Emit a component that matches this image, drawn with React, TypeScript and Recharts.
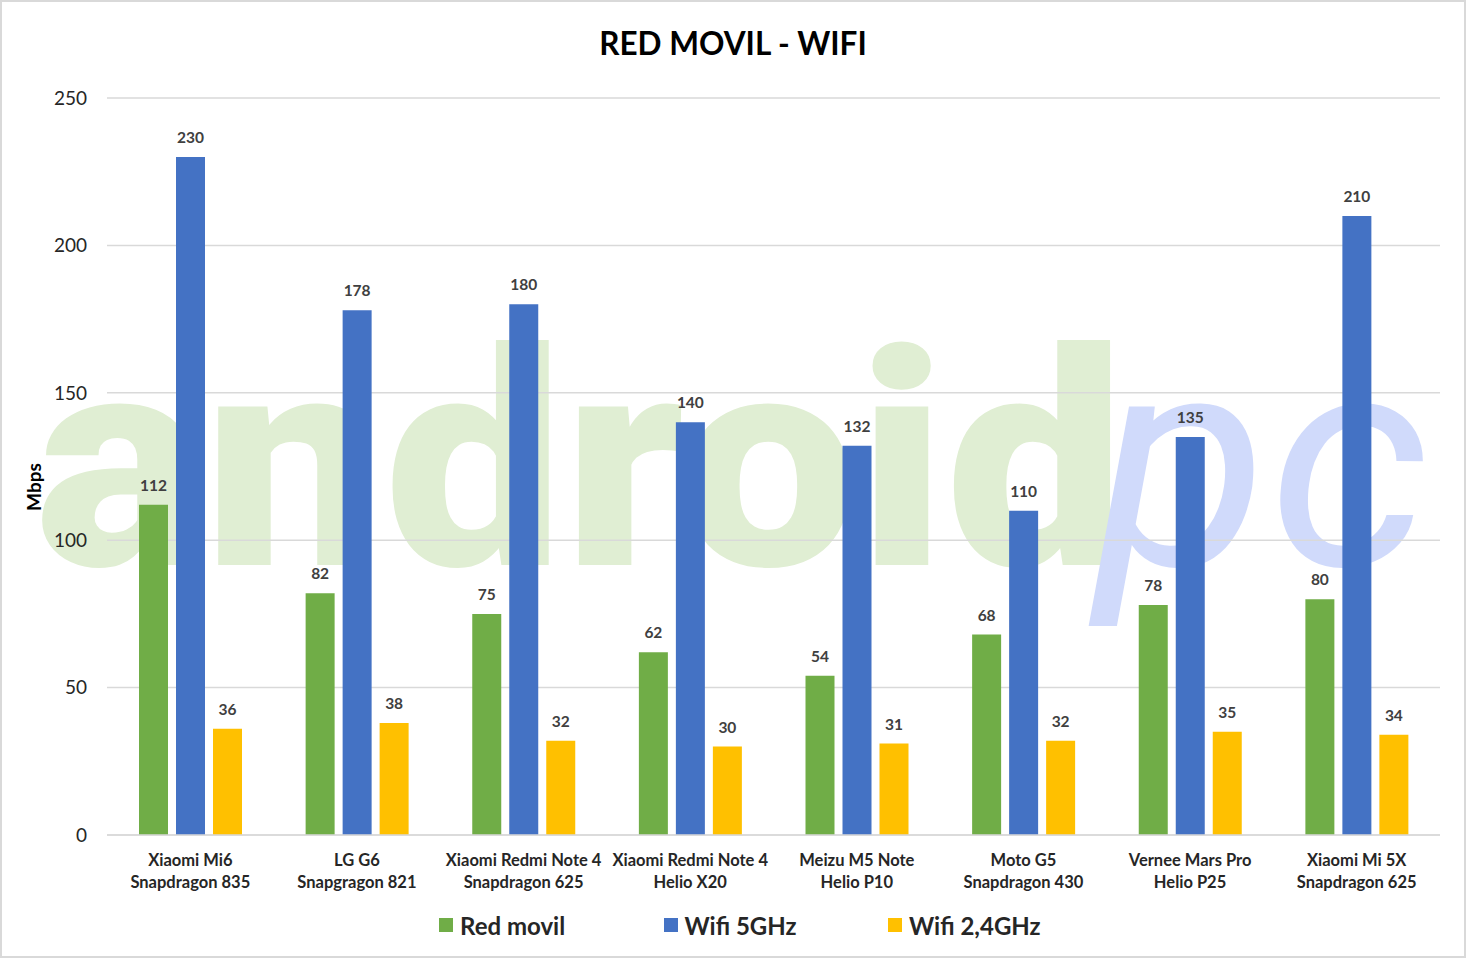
import React from 'react';
import { BarChart, Bar, XAxis, YAxis, CartesianGrid, Legend, LabelList } from 'recharts';

const models = ['Xiaomi Mi6', 'LG G6', 'Xiaomi Redmi Note 4', 'Xiaomi Redmi Note 4', 'Meizu M5 Note', 'Moto G5', 'Vernee Mars Pro', 'Xiaomi Mi 5X'];
const chips = ['Snapdragon 835', 'Snapgragon 821', 'Snapdragon 625', 'Helio X20', 'Helio P10', 'Snapdragon 430', 'Helio P25', 'Snapdragon 625'];
const redMovil = [112, 82, 75, 62, 54, 68, 78, 80];
const wifi5 = [230, 178, 180, 140, 132, 110, 135, 210];
const wifi24 = [36, 38, 32, 30, 31, 32, 35, 34];
const yTicks = [0, 50, 100, 150, 200, 250];

const series = [
  { key: 'red', name: 'Red movil', color: '#70ad47' },
  { key: 'w5', name: 'Wifi 5GHz', color: '#4472c4' },
  { key: 'w24', name: 'Wifi 2,4GHz', color: '#ffc000' },
];

const data = models.map((m, i) => ({
  id: i,
  name: m,
  chip: chips[i],
  red: redMovil[i],
  w5: wifi5[i],
  w24: wifi24[i],
}));

const FONT = 'Lato, "Open Sans", sans-serif';

const CategoryTick = (props: any) => {
  const { x, y, payload } = props;
  const i = payload.index;
  return (
    <g transform={`translate(${x},${y})`}>
      <text textAnchor="middle" fontFamily={FONT} fontWeight={700} fontSize={16.5} fill="#262626">
        <tspan x={0} dy={23}>{models[i]}</tspan>
        <tspan x={0} dy={22}>{chips[i]}</tspan>
      </text>
    </g>
  );
};

// legend items sit on a fixed pitch like the original
const LegendBox = () => (
  <div style={{ display: 'flex', height: 30, alignItems: 'center', fontFamily: FONT, fontSize: 24, fontWeight: 700, color: '#262626', paddingLeft: 419 }}>
    {series.map((s, i) => (
      <div key={s.key} style={{ display: 'flex', alignItems: 'center', width: i < 2 ? 224.5 : 'auto' }}>
        <span style={{ width: 14, height: 14, background: s.color, display: 'inline-block', marginRight: 7 }} />
        <span>{s.name}</span>
      </div>
    ))}
  </div>
);

const Watermark = () => (
  <svg width={1466} height={958} style={{ position: 'absolute', left: 0, top: 0 }}>
    <text x={35} y={565} fontFamily="Roboto, sans-serif" fontWeight={900} fontSize={300} fill="#e0eed3" textLength={1090} lengthAdjust="spacingAndGlyphs">android</text>
    <text x={1095} y={565} fontFamily="Roboto, sans-serif" fontWeight={400} fontStyle="italic" fontSize={300} fill="#d0dafb" textLength={335} lengthAdjust="spacingAndGlyphs">pc</text>
  </svg>
);

export default function App() {
  return (
    <div style={{ position: 'absolute', left: 0, top: 0, width: 1466, height: 958, background: '#ffffff', overflow: 'hidden' }}>
      <Watermark />
      <div style={{ position: 'absolute', left: 0, top: 24, width: 1466, textAlign: 'center', fontFamily: FONT, fontWeight: 700, fontSize: 31.5, color: '#000' }}>
        RED MOVIL - WIFI
      </div>
      <div style={{ position: 'absolute', left: 0, top: 0 }}>
        <BarChart width={1466} height={958} data={data} margin={{ top: 98, right: 26, bottom: 18, left: 20 }} barSize={29} barGap={8}>
          <CartesianGrid vertical={false} stroke="#d9d9d9" strokeWidth={1.5} />
          <XAxis dataKey="id" tick={<CategoryTick />} tickLine={false} axisLine={{ stroke: '#d9d9d9', strokeWidth: 1.5 }} height={75} interval={0} />
          <YAxis
            domain={[0, 250]}
            ticks={yTicks}
            width={87}
            tickLine={false}
            tickSize={0}
            tickMargin={20}
            axisLine={false}
            tick={{ fontFamily: FONT, fontSize: 19, fill: '#262626' }}
            label={{
              value: 'Mbps',
              content: () => (
                <text x={33} y={487} transform="rotate(-90 33 487)" textAnchor="middle" dominantBaseline="central" fontFamily={FONT} fontWeight={700} fontSize={19} fill="#000">Mbps</text>
              ),
            }}
          />
          <Legend verticalAlign="bottom" content={<LegendBox />} />
          {series.map(s => (
            <Bar key={s.key} dataKey={s.key} name={s.name} fill={s.color} isAnimationActive={false}>
              <LabelList dataKey={s.key} position="top" offset={14} fontFamily={FONT} fontWeight={700} fontSize={15.5} fill="#404040" />
            </Bar>
          ))}
        </BarChart>
      </div>
      <div style={{ position: 'absolute', left: 0, top: 0, width: 1466, height: 958, boxSizing: 'border-box', border: '2px solid #d9d9d9', pointerEvents: 'none' }} />
    </div>
  );
}
